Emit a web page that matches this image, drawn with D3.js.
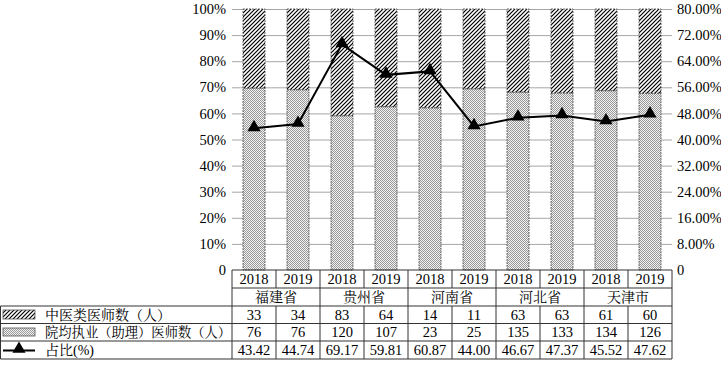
<!DOCTYPE html>
<html><head><meta charset="utf-8">
<script src="https://cdn.jsdelivr.net/npm/d3@7"></script>
<style>
html,body{margin:0;padding:0;background:#fff;}
text{font-family:"Liberation Serif","Times New Roman","Noto Serif CJK SC","Noto Sans CJK SC",serif;fill:#000;}
</style></head>
<body><svg id="c" width="721" height="365"></svg>
<script>
const provinces = ["福建省","贵州省","河南省","河北省","天津市"];
const years = ["2018","2019","2018","2019","2018","2019","2018","2019","2018","2019"];
const tcmDoctors = [33,34,83,64,14,11,63,63,61,60];
const avgDoctors = [76,76,120,107,23,25,135,133,134,126];
const ratio = [43.42,44.74,69.17,59.81,60.87,44.00,46.67,47.37,45.52,47.62];
const ratioLabels = ["43.42","44.74","69.17","59.81","60.87","44.00","46.67","47.37","45.52","47.62"];
const leftTicks = [0,0.1,0.2,0.3,0.4,0.5,0.6,0.7,0.8,0.9,1];
const rightTicks = [0,8,16,24,32,40,48,56,64,72,80];
const seriesNames = ["中医类医师数（人）","院均执业（助理）医师数（人）","占比(%)"];

const svg = d3.select("#c");
const L = 232, R = 672, T = 9, B = 270;
const idx = d3.range(years.length);
const x = d3.scaleBand().domain(idx).range([L,R]).paddingInner(0.5).paddingOuter(0.25);
const yL = d3.scaleLinear().domain([0,1]).range([B,T]);
const yR = d3.scaleLinear().domain([0,80]).range([B,T]);

const defs = svg.append("defs");
const ph = defs.append("pattern").attr("id","hatch").attr("patternUnits","userSpaceOnUse").attr("width",4).attr("height",4);
ph.append("rect").attr("width",4).attr("height",4).attr("fill","#fff");
ph.append("path").attr("d","M-1,1 L1,-1 M0,4 L4,0 M3,5 L5,3").attr("stroke","#000").attr("stroke-width",1.2);
const pd = defs.append("pattern").attr("id","dots").attr("patternUnits","userSpaceOnUse").attr("width",2).attr("height",2);
pd.append("rect").attr("width",2).attr("height",2).attr("fill","#f2f2f2");
pd.append("rect").attr("width",1).attr("height",1).attr("fill","#999");
pd.append("rect").attr("x",1).attr("y",1).attr("width",1).attr("height",1).attr("fill","#999");

// gridlines
svg.append("g").selectAll("line").data(leftTicks.slice(1)).join("line")
  .attr("x1",L).attr("x2",R).attr("y1",d=>yL(d)+0.5).attr("y2",d=>yL(d)+0.5)
  .attr("stroke","#a6a6a6").attr("stroke-width",1);

// axes
const fmtL = d => d===0 ? "0" : Math.round(d*100)+"%";
const fmtR = d => d===0 ? "0" : d.toFixed(2)+"%";
const gl = svg.append("g").attr("transform",`translate(${L-6},0)`)
  .call(d3.axisLeft(yL).tickValues(leftTicks).tickFormat(fmtL).tickSize(0).tickPadding(0));
gl.select(".domain").remove();
gl.selectAll("text").attr("font-size",14.5).attr("font-family","Liberation Serif");
const gr = svg.append("g").attr("transform",`translate(${R+5},0)`)
  .call(d3.axisRight(yR).tickValues(rightTicks).tickFormat(fmtR).tickSize(0).tickPadding(0));
gr.select(".domain").remove();
gr.selectAll("text").attr("font-size",14.5).attr("font-family","Liberation Serif");

// bars
const share = idx.map(i => avgDoctors[i]/(avgDoctors[i]+tcmDoctors[i]));
const bars = svg.append("g");
bars.selectAll("rect.low").data(idx).join("rect").attr("class","low")
  .attr("x",i=>x(i)).attr("width",x.bandwidth())
  .attr("y",i=>yL(share[i])).attr("height",i=>yL(0)-yL(share[i]))
  .attr("fill","url(#dots)").attr("stroke","#444").attr("stroke-width",0.8).attr("stroke-dasharray","2,1");
bars.selectAll("rect.high").data(idx).join("rect").attr("class","high")
  .attr("x",i=>x(i)).attr("width",x.bandwidth())
  .attr("y",yL(1)).attr("height",i=>yL(share[i])-yL(1))
  .attr("fill","url(#hatch)").attr("stroke","#444").attr("stroke-width",0.8).attr("stroke-dasharray","2,1");

// line
const cx = i => x(i)+x.bandwidth()/2;
svg.append("path").datum(idx)
  .attr("d",d3.line().x(cx).y(i=>yR(ratio[i])))
  .attr("fill","none").attr("stroke","#000").attr("stroke-width",2);
const tri = d3.symbol().type(d3.symbolTriangle).size(75);
svg.append("g").selectAll("path").data(idx).join("path")
  .attr("d",tri).attr("transform",i=>`translate(${cx(i)},${yR(ratio[i])-1})`).attr("fill","#000");

// table
const rows = [270,288,306,323.5,341,359];
const step = x.step();
const colX = i => L + i*step;
const tb = svg.append("g");
const ls = "#333";
tb.append("line").attr("x1",L).attr("x2",R).attr("y1",rows[0]).attr("y2",rows[0]).attr("stroke",ls);
tb.append("line").attr("x1",L).attr("x2",R).attr("y1",rows[1]).attr("y2",rows[1]).attr("stroke",ls);
[2,3,4,5].forEach(r=>tb.append("line").attr("x1",0.5).attr("x2",R).attr("y1",rows[r]).attr("y2",rows[r]).attr("stroke",ls));
tb.append("line").attr("x1",0.5).attr("x2",0.5).attr("y1",rows[2]).attr("y2",rows[5]).attr("stroke",ls);
d3.range(11).forEach(i=>{
  tb.append("line").attr("x1",colX(i)).attr("x2",colX(i)).attr("y1",rows[0]).attr("y2",rows[1]).attr("stroke",ls);
  tb.append("line").attr("x1",colX(i)).attr("x2",colX(i)).attr("y1",rows[2]).attr("y2",rows[5]).attr("stroke",ls);
  if(i%2===0) tb.append("line").attr("x1",colX(i)).attr("x2",colX(i)).attr("y1",rows[1]).attr("y2",rows[2]).attr("stroke",ls);
});
const cellText = (vals,r) => tb.append("g").selectAll("text").data(vals).join("text")
  .attr("x",(d,i)=>colX(i)+step/2).attr("y",(rows[r]+rows[r+1])/2+5)
  .attr("text-anchor","middle").attr("font-size",14.5).text(d=>d);
cellText(years,0);
cellText(tcmDoctors,2);
cellText(avgDoctors,3);
cellText(ratioLabels,4);
tb.append("g").selectAll("text").data(provinces).join("text")
  .attr("x",(d,i)=>colX(i*2)+step).attr("y",(rows[1]+rows[2])/2+5)
  .attr("text-anchor","middle").attr("font-size",14).attr("font-family","Noto Serif CJK SC, Noto Sans CJK SC").text(d=>d);

// legend in table
const lg = svg.append("g");
lg.append("rect").attr("x",3).attr("y",310).attr("width",32).attr("height",9).attr("fill","url(#hatch)").attr("stroke","#555").attr("stroke-width",0.8);
lg.append("rect").attr("x",3).attr("y",328).attr("width",32).attr("height",8).attr("fill","url(#dots)").attr("stroke","#555").attr("stroke-width",0.8);
lg.append("line").attr("x1",3).attr("x2",35).attr("y1",350.5).attr("y2",350.5).attr("stroke","#000").attr("stroke-width",2);
lg.append("path").attr("d",tri).attr("transform","translate(19,349)").attr("fill","#000");
lg.selectAll("text").data(seriesNames).join("text")
  .attr("x",45).attr("y",(d,i)=>(rows[i+2]+rows[i+3])/2+5)
  .attr("font-size",(d,i)=>i===1?13.3:14)
  .attr("font-family","Noto Serif CJK SC, Noto Sans CJK SC, Liberation Serif")
  .text(d=>d);
</script></body></html>
